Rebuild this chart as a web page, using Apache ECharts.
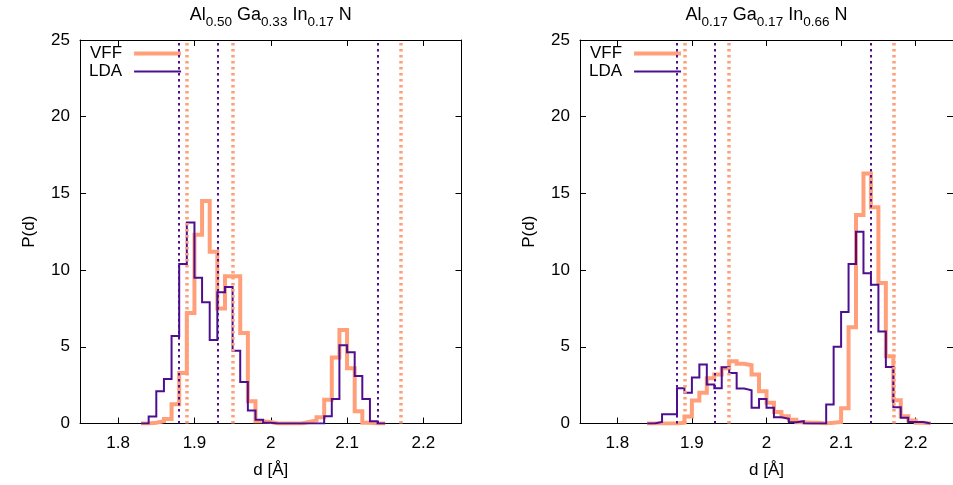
<!DOCTYPE html>
<html><head><meta charset="utf-8">
<script src="https://cdn.jsdelivr.net/npm/echarts@6/dist/echarts.min.js"></script>
<style>html,body{margin:0;padding:0;background:#fff}#c{width:953px;height:485px}</style>
</head><body><div id="c"></div>
<script>
const xTicks = [1.8, 1.9, 2.0, 2.1, 2.2];
const yTicks = [0, 5, 10, 15, 20, 25];
const seriesNames = ['VFF', 'LDA'];
const panelTitles = [
  '{n|Al}{s|0.50}{n| Ga}{s|0.33}{n| In}{s|0.17}{n| N}',
  '{n|Al}{s|0.17}{n| Ga}{s|0.17}{n| In}{s|0.66}{n| N}'
];
const leftEdges = [1.83,1.84,1.85,1.86,1.87,1.88,1.89,1.90,1.91,1.92,1.93,1.94,1.95,1.96,1.97,1.98,1.99,2.00,2.01,2.02,2.03,2.04,2.05,2.06,2.07,2.08,2.09,2.10,2.11,2.12,2.13,2.14,2.15];
const leftVFF = [0,0.05,0.15,0.3,1.25,3.3,7.2,12.3,14.5,11.2,7.5,9.6,9.6,5.9,1.45,0.15,0.1,0,0,0,0,0.1,0.2,0.4,1.55,4.3,6.1,3.6,0.8,0.05,0,0,0];
const leftLDA = [0,0.45,2.1,2.9,5.7,10.4,13.1,9.5,7.9,5.45,8.55,8.9,4.75,2.7,0.85,0.25,0.05,0,0,0,0,0,0,0,0.48,1.6,5.1,4.65,3.1,1.6,0.15,0,0];
const rightEdges = [1.84,1.85,1.86,1.87,1.88,1.89,1.90,1.91,1.92,1.93,1.94,1.95,1.96,1.97,1.98,1.99,2.00,2.01,2.02,2.03,2.04,2.05,2.06,2.07,2.08,2.09,2.10,2.11,2.12,2.13,2.14,2.15,2.16,2.17,2.18,2.19,2.20,2.21,2.22];
const rightVFF = [0,0,0,0,0.05,0.45,1.5,2.0,2.95,3.2,3.6,4.05,3.9,3.8,3.2,2.1,1.35,0.75,0.48,0.25,0.08,0.05,0.05,0,0.05,0.1,1.0,6.27,13.6,16.3,14.1,9.16,4.38,1.52,0.48,0.2,0.05,0,0];
const rightLDA = [0,0.1,0.6,0.6,2.3,2.0,3.0,3.85,2.55,2.3,3.67,3.3,2.28,2.17,1.02,1.6,1.02,0.41,0.3,0.08,0.15,0,0,0,1.24,5.0,7.27,10.4,12.5,9.8,9.05,6.0,3.69,1.06,0.37,0.1,0.1,0,0];
const refVFF = [1.894, 1.950, 2.165];
const refLDA = [1.882, 1.930, 2.143];

const FONT = '"Liberation Sans", Arial, sans-serif';
const C_VFF = '#ffa07a';
const C_LDA = '#4d0f8f';

const panels = [
  {edges: leftEdges, vff: leftVFF, lda: leftLDA, left: 80, width: 381.5},
  {edges: rightEdges, vff: rightVFF, lda: rightLDA, left: 580, width: 381}
];

const grid = [], xAxis = [], yAxis = [], series = [], legend = [];
panels.forEach((p, i) => {
  grid.push({left: p.left, top: 40, width: p.width, height: 383.5, containLabel: false});
  const baseX = {
    type: 'value', gridIndex: i, min: 1.75, max: 2.25,
    axisLine: {show: true, onZero: false, lineStyle: {color: '#000', width: 1}},
    axisTick: {show: true, inside: true, length: 6, customValues: xTicks, lineStyle: {color: '#000'}},
    splitLine: {show: false}
  };
  xAxis.push(Object.assign({}, baseX, {
    position: 'bottom',
    axisLabel: {show: true, customValues: xTicks, fontSize: 17, color: '#000', fontFamily: FONT, margin: 11},
    name: 'd [Å]', nameLocation: 'middle', nameGap: 38,
    nameTextStyle: {fontSize: 17, color: '#000', fontFamily: FONT}
  }));
  xAxis.push(Object.assign({}, baseX, {
    position: 'top',
    axisLabel: {show: false},
    name: panelTitles[i], nameLocation: 'middle', nameGap: 13,
    nameTextStyle: {
      fontFamily: FONT, color: '#000',
      rich: {
        n: {fontSize: 18, fontFamily: FONT, color: '#000', verticalAlign: 'top', lineHeight: 21},
        s: {fontSize: 13.5, fontFamily: FONT, color: '#000', verticalAlign: 'top', lineHeight: 15, padding: [9, 0, 0, 0]}
      }
    }
  }));
  const baseY = {
    type: 'value', gridIndex: i, min: 0, max: 25, interval: 5,
    axisLine: {show: true, onZero: false, lineStyle: {color: '#000', width: 1}},
    axisTick: {show: true, inside: true, length: 6, lineStyle: {color: '#000'}},
    splitLine: {show: false}
  };
  yAxis.push(Object.assign({}, baseY, {
    position: 'left',
    axisLabel: {show: true, fontSize: 17, color: '#000', fontFamily: FONT, margin: 10},
    name: 'P(d)', nameLocation: 'middle', nameGap: 42, nameRotate: 90,
    nameTextStyle: {fontSize: 17, color: '#000', fontFamily: FONT}
  }));
  yAxis.push(Object.assign({}, baseY, {position: 'right', axisLabel: {show: false}}));

  const mk = (name, edges, vals, color, width, refs, refWidth) => ({
    name, type: 'line', xAxisIndex: 2 * i, yAxisIndex: 2 * i,
    step: 'end', symbol: 'none', showSymbol: false, animation: false,
    data: edges.map((e, k) => [e, vals[k]]),
    lineStyle: {color, width, join: 'miter'},
    itemStyle: {color},
    markLine: {
      silent: true, symbol: ['none', 'none'], animation: false,
      label: {show: false},
      lineStyle: {color, width: refWidth, type: [2.5, 3.5], cap: 'butt'},
      data: refs.map(v => ({xAxis: v}))
    }
  });
  series.push(mk(seriesNames[0], p.edges, p.vff, C_VFF, 4, refVFF, 3.5));
  series.push(mk(seriesNames[1], p.edges, p.lda, C_LDA, 2, refLDA, 2));

  legend.push({
    orient: 'vertical', align: 'right', left: p.left + 9, top: 45, padding: 0,
    itemGap: 1, itemWidth: 47, itemHeight: 10, selectedMode: false,
    itemStyle: {borderWidth: 0},
    textStyle: {fontSize: 17, color: '#000', fontFamily: FONT, padding: [0, 7, 0, 0]},
    data: [
      {name: seriesNames[0], icon: 'path://M0,0H47V4H0Z'},
      {name: seriesNames[1], icon: 'path://M0,0H47V2H0Z'}
    ]
  });
});

const chart = echarts.init(document.getElementById('c'));
chart.setOption({animation: false, backgroundColor: '#fff', grid, xAxis, yAxis, series, legend});
</script>
</body></html>
